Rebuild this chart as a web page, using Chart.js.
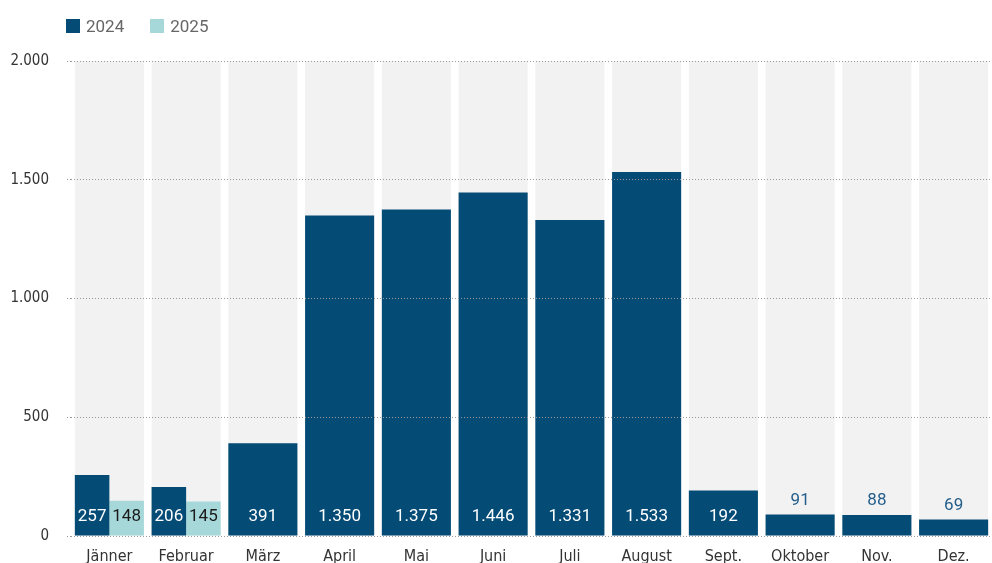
<!DOCTYPE html>
<html>
<head>
<meta charset="utf-8">
<script src="https://cdn.jsdelivr.net/npm/chart.js@4.4.1/dist/chart.umd.min.js"></script>
<style>
  html, body { margin:0; padding:0; background:#fff; }
  #wrap { position:relative; width:992px; height:563px; overflow:hidden; }
  #legend { position:absolute; left:66px; top:16px; display:flex; font-family:Roboto, "Liberation Sans", sans-serif; font-size:17px; color:#666; }
  .item { display:flex; align-items:center; margin-right:26px; }
  .box { width:14px; height:14px; margin-right:6px; }
</style>
</head>
<body>
<div id="wrap">
  <canvas id="grafico" width="992" height="563"></canvas>
  <div id="legend"></div>
</div>
<script>
// ===============================
// DATEN
// ===============================
const monate = ["Jänner","Februar","März","April","Mai","Juni","Juli","August","Sept.","Oktober","Nov.","Dez."];
const werte2024 = [257, 206, 391, 1350, 1375, 1446, 1331, 1533, 192, 91, 88, 69];
const werte2025 = [148, 145, null, null, null, null, null, null, null, null, null, null];
const yTicks = [0, 500, 1000, 1500, 2000];

const yMax = yTicks[yTicks.length - 1];
const farben = { "2024": "#044b76", "2025": "#a6d8da", hintergrund: "#f2f2f2" };
const schmal = "'Liberation Sans Narrow', 'DejaVu Sans Condensed', sans-serif";

function zahl(v){
  return String(v).replace(/\B(?=(\d{3})+(?!\d))/g, ".");
}

// ===============================
// BESCHRIFTUNG DER BALKEN
// ===============================
const balkenLabels = {
  id: "balkenLabels",
  afterDraw(chart){
    const ctx = chart.ctx;
    ctx.save();
    ctx.font = "17px Roboto, 'Liberation Sans', sans-serif";
    ctx.textAlign = "center";
    ctx.textBaseline = "middle";
    [0, 1].forEach(i => {
      const meta = chart.getDatasetMeta(i);
      const ds = chart.data.datasets[i];
      meta.data.forEach((bar, j) => {
        const v = ds.data[j];
        if(v === null || v === undefined) return;
        const h = bar.base - bar.y;
        if(h >= 30){
          ctx.fillStyle = i === 0 ? "#ffffff" : "#1a1a1a";
          ctx.fillText(zahl(v), bar.x, bar.base - 19);
        }else{
          ctx.fillStyle = "#245e8a";
          ctx.fillText(zahl(v), bar.x, bar.y - 14);
        }
      });
    });
    ctx.restore();
  }
};

const ctx = document.getElementById("grafico").getContext("2d");

const grafico = new Chart(ctx, {
  type: "bar",
  data: {
    labels: monate,
    datasets: [
      { label: "2024", data: werte2024, backgroundColor: farben["2024"], order: 0,
        categoryPercentage: 0.9, barPercentage: 1.0 },
      { label: "2025", data: werte2025, backgroundColor: farben["2025"], order: 0,
        categoryPercentage: 0.9, barPercentage: 1.0 },
      { label: "bg", data: monate.map(() => yMax), backgroundColor: farben.hintergrund,
        grouped: false, order: 1, categoryPercentage: 0.9, barPercentage: 1.0 }
    ]
  },
  options: {
    responsive: false,
    animation: false,
    skipNull: true,
    layout: { padding: { top: 61, right: -2, bottom: -16, left: 0 } },
    plugins: { legend: { display: false }, tooltip: { enabled: false } },
    scales: {
      x: {
        grid: { display: false, drawTicks: false },
        border: { display: false },
        ticks: { padding: 11, color: "#333", font: { family: schmal, size: 16 }, maxRotation: 0 }
      },
      y: {
        min: 0, max: yMax,
        afterFit: s => { s.width = 71; },
        afterBuildTicks: s => { s.ticks = yTicks.map(v => ({ value: v })); },
        border: { display: false, dash: [1, 2] },
        grid: { z: 1, color: "#999999", lineWidth: 1, tickLength: 4, tickColor: "#999999",
                tickBorderDash: [1, 2] },
        ticks: { padding: 18, color: "#333", font: { family: schmal, size: 15 },
                 callback: v => zahl(v) }
      }
    }
  },
  plugins: [balkenLabels]
});

// ===============================
// LEGENDE
// ===============================
const legende = document.getElementById("legend");
grafico.data.datasets.slice(0, 2).forEach(ds => {
  legende.innerHTML += `<div class="item"><div class="box" style="background:${ds.backgroundColor}"></div>${ds.label}</div>`;
});
</script>
</body>
</html>
